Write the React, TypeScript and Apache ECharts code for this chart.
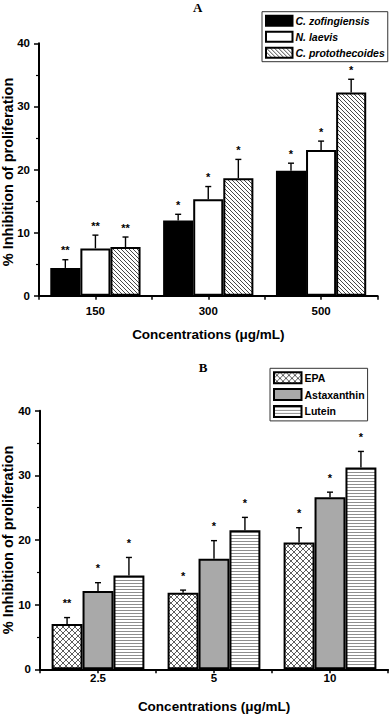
import React, { useEffect, useRef } from 'react';
import * as echarts from 'echarts';

// ---- Panel A data ----
const catsA = ['150', '300', '500'];
const namesA = ['C. zofingiensis', 'N. laevis', 'C. protothecoides'];
const zofingiensis = [4.4, 11.9, 19.8];
const zofingiensisErr = [1.3, 1.0, 1.2];
const laevis = [7.5, 15.3, 23.1];
const laevisErr = [2.1, 2.0, 1.4];
const protothecoides = [7.7, 18.6, 32.2];
const protothecoidesErr = [1.6, 3.0, 2.1];
const sigZof = ['**', '*', '*'];
const sigLaevis = ['**', '*', '*'];
const sigProto = ['**', '*', '*'];

// ---- Panel B data ----
const catsB = ['2.5', '5', '10'];
const namesB = ['EPA', 'Astaxanthin', 'Lutein'];
const epa = [7.0, 11.85, 19.6];
const epaErr = [1.0, 0.4, 2.3];
const astaxanthin = [12.1, 17.1, 26.6];
const astaxanthinErr = [1.3, 2.8, 0.8];
const lutein = [14.5, 21.5, 31.2];
const luteinErr = [2.8, 2.0, 2.5];
const sigEpa = ['**', '*', '*'];
const sigAsta = ['*', '*', '*'];
const sigLutein = ['*', '*', '*'];

const yMin = 0;
const yMax = 40;
const yInterval = 10;
const yName = '% Inhibition of proliferation';
const xName = 'Concentrations (\u03bcg/mL)';

const SANS = '"Liberation Sans", Arial, sans-serif';
const SERIF = '"Liberation Serif", "Times New Roman", serif';

function makePattern(kind: string): any {
  const c = document.createElement('canvas');
  const ctx = c.getContext('2d') as CanvasRenderingContext2D;
  let w = 4;
  let h = 4;
  if (kind === 'diag') {
    w = 4; h = 4;
    c.width = w; c.height = h;
    ctx.fillStyle = '#fff';
    ctx.fillRect(0, 0, w, h);
    ctx.strokeStyle = '#333';
    ctx.lineWidth = 0.9;
    ctx.beginPath();
    for (const o of [-w, 0, w]) {
      ctx.moveTo(o, 0);
      ctx.lineTo(o + w, h);
    }
    ctx.stroke();
  } else if (kind === 'cross') {
    w = 6; h = 6;
    c.width = w; c.height = h;
    ctx.fillStyle = '#fff';
    ctx.fillRect(0, 0, w, h);
    ctx.strokeStyle = '#333';
    ctx.lineWidth = 0.8;
    ctx.beginPath();
    for (const o of [-w, 0, w]) {
      ctx.moveTo(o, 0);
      ctx.lineTo(o + w, h);
      ctx.moveTo(o + w, 0);
      ctx.lineTo(o, h);
    }
    ctx.stroke();
  } else {
    w = 4; h = 3;
    c.width = w; c.height = h;
    ctx.fillStyle = '#fff';
    ctx.fillRect(0, 0, w, h);
    ctx.fillStyle = '#8e8e8e';
    ctx.fillRect(0, 1, w, 1);
  }
  return { image: c, repeat: 'repeat', imageWidth: w, imageHeight: h };
}

function errSeries(
  name: string,
  values: number[],
  errs: number[],
  stars: string[],
  k: number,
  xAxisIndex: number,
  yAxisIndex: number,
  starOffset: number
): any {
  return {
    type: 'custom',
    name: name + '_err',
    xAxisIndex,
    yAxisIndex,
    z: 5,
    silent: true,
    encode: { x: 0, y: 1 },
    data: values.map((v, i) => [i, v, errs[i]]),
    renderItem: (params: any, api: any) => {
      const ci = api.value(0);
      const v = api.value(1);
      const e = api.value(2);
      const base = api.coord([ci, v]);
      const top = api.coord([ci, v + e]);
      const band = api.size([1, 0])[0];
      const bw = (band * 0.8) / 3;
      const x = base[0] + (k - 1) * bw;
      return {
        type: 'group',
        children: [
          { type: 'line', shape: { x1: x, y1: base[1], x2: x, y2: top[1] }, style: { stroke: '#000', lineWidth: 1.4 } },
          { type: 'line', shape: { x1: x - 3, y1: top[1], x2: x + 3, y2: top[1] }, style: { stroke: '#000', lineWidth: 1.4 } },
          {
            type: 'text',
            x,
            y: top[1] - starOffset,
            style: {
              text: stars[params.dataIndex],
              fontSize: 11,
              fontWeight: 'bold',
              fontFamily: SANS,
              fill: '#000',
              align: 'center',
              verticalAlign: 'middle',
            },
          },
        ],
      };
    },
  };
}

function barSeries(name: string, values: number[], color: any, xAxisIndex: number, yAxisIndex: number): any {
  return {
    type: 'bar',
    name,
    xAxisIndex,
    yAxisIndex,
    data: values,
    barGap: '0%',
    barCategoryGap: '20%',
    itemStyle: { color, borderColor: '#000', borderWidth: 2 },
    z: 2,
  };
}

function yAxisOpt(gridIndex: number): any {
  return {
    gridIndex,
    type: 'value',
    min: yMin,
    max: yMax,
    interval: yInterval,
    axisLine: { show: true, lineStyle: { color: '#000', width: 2 } },
    axisTick: { show: true, length: 5, lineStyle: { color: '#000', width: 1.5 } },
    minorTick: { show: true, splitNumber: 2, length: 3, lineStyle: { color: '#000', width: 1.2 } },
    splitLine: { show: false },
    axisLabel: { margin: 9, fontFamily: SANS, fontWeight: 'bold', fontSize: 11.5, color: '#000' },
  };
}

function xAxisMain(gridIndex: number, cats: string[], labelMargin: number, nameGap: number): any {
  return {
    gridIndex,
    type: 'category',
    data: cats,
    position: 'bottom',
    axisLine: { show: true, lineStyle: { color: '#000', width: 2 } },
    axisTick: { show: true, length: 4, interval: 0, lineStyle: { color: '#000', width: 1.5 } },
    axisLabel: { margin: labelMargin, interval: 0, fontFamily: SANS, fontWeight: 'bold', fontSize: 11.5, color: '#000' },
    splitLine: { show: false },
    name: xName,
    nameLocation: 'middle',
    nameGap,
    nameTextStyle: { fontFamily: SANS, fontWeight: 'bold', fontSize: 13.5, color: '#000' },
  };
}

function xAxisCenterTicks(gridIndex: number, cats: string[]): any {
  return {
    gridIndex,
    type: 'category',
    data: cats,
    position: 'bottom',
    axisLine: { show: false },
    axisTick: { show: true, alignWithLabel: true, interval: 0, length: 4, lineStyle: { color: '#000', width: 1.5 } },
    axisLabel: { show: false },
    splitLine: { show: false },
  };
}

function legendOpt(names: string[], left: number, top: number, itemWidth: number, itemHeight: number, itemGap: number, italic: boolean): any {
  return {
    data: names,
    orient: 'vertical',
    left,
    top,
    padding: [3, 3, 3, 3],
    itemWidth,
    itemHeight,
    itemGap,
    icon: 'rect',
    selectedMode: false,
    borderColor: '#333',
    borderWidth: 1,
    backgroundColor: '#fff',
    itemStyle: { borderColor: '#000', borderWidth: 2 },
    textStyle: {
      fontFamily: SANS,
      fontWeight: 'bold',
      fontStyle: italic ? 'italic' : 'normal',
      fontSize: 10.5,
      color: '#000',
      padding: [0, 0, 0, -2],
    },
  };
}

function yNameText(x: number, y: number): any {
  return {
    type: 'text',
    x,
    y,
    rotation: Math.PI / 2,
    style: {
      text: yName,
      fontFamily: SANS,
      fontWeight: 'bold',
      fontSize: 14.5,
      fill: '#000',
      align: 'center',
      verticalAlign: 'middle',
    },
  };
}

export default function App() {
  const ref = useRef<HTMLDivElement>(null);
  useEffect(() => {
    if (!ref.current) return;
    const chart = echarts.init(ref.current, null, { renderer: 'svg' });
    const diag = makePattern('diag');
    const cross = makePattern('cross');
    const horiz = makePattern('horiz');
    const option: any = {
      animation: false,
      backgroundColor: '#fff',
      grid: [
        { left: 39, top: 43.3, width: 338.5, height: 252.4, outerBoundsMode: 'none', containLabel: false },
        { left: 40, top: 410.7, width: 348, height: 258.6, outerBoundsMode: 'none', containLabel: false },
      ],
      xAxis: [
        xAxisMain(0, catsA, 9, 32),
        xAxisCenterTicks(0, catsA),
        xAxisMain(1, catsB, 3, 30),
        xAxisCenterTicks(1, catsB),
      ],
      yAxis: [yAxisOpt(0), yAxisOpt(1)],
      legend: [
        legendOpt(namesA, 262, 11.7, 26.5, 10, 4, true),
        legendOpt(namesB, 270, 368.3, 27.5, 11, 3.8, false),
      ],
      graphic: [
        { type: 'text', x: 197.7, y: 7, style: { text: 'A', fontFamily: SERIF, fontWeight: 'bold', fontSize: 13, fill: '#000', align: 'center', verticalAlign: 'middle' } },
        { type: 'text', x: 203, y: 367, style: { text: 'B', fontFamily: SERIF, fontWeight: 'bold', fontSize: 13, fill: '#000', align: 'center', verticalAlign: 'middle' } },
        yNameText(7.5, 172),
        yNameText(7.5, 540),
      ],
      series: [
        barSeries(namesA[0], zofingiensis, '#000', 0, 0),
        barSeries(namesA[1], laevis, '#fff', 0, 0),
        barSeries(namesA[2], protothecoides, diag, 0, 0),
        errSeries(namesA[0], zofingiensis, zofingiensisErr, sigZof, 0, 0, 0, 9.5),
        errSeries(namesA[1], laevis, laevisErr, sigLaevis, 1, 0, 0, 9.5),
        errSeries(namesA[2], protothecoides, protothecoidesErr, sigProto, 2, 0, 0, 9.5),
        barSeries(namesB[0], epa, cross, 2, 1),
        barSeries(namesB[1], astaxanthin, '#a9a9a9', 2, 1),
        barSeries(namesB[2], lutein, horiz, 2, 1),
        errSeries(namesB[0], epa, epaErr, sigEpa, 0, 2, 1, 14.5),
        errSeries(namesB[1], astaxanthin, astaxanthinErr, sigAsta, 1, 2, 1, 14.5),
        errSeries(namesB[2], lutein, luteinErr, sigLutein, 2, 2, 1, 14.5),
      ],
    };
    chart.setOption(option);
    return () => {
      chart.dispose();
    };
  }, []);
  return (
    <div
      ref={ref}
      style={{ position: 'absolute', left: 0, top: 0, width: 390, height: 714, background: '#fff' }}
    />
  );
}
